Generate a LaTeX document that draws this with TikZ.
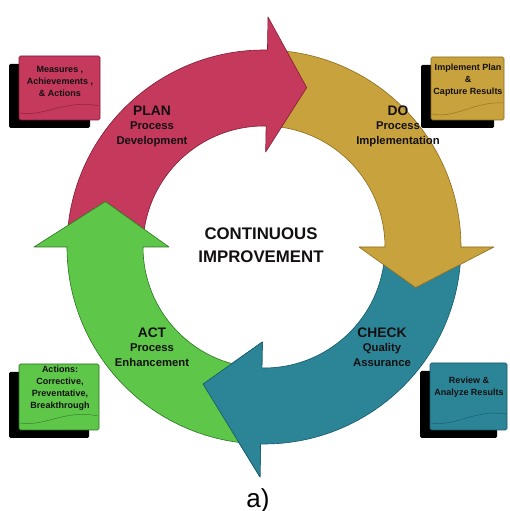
\documentclass[tikz,border=0pt]{standalone}
\usepackage{fontspec}
\setmainfont{Liberation Sans}
\usetikzlibrary{calc}

\definecolor{planfill}{RGB}{196,57,92}
\definecolor{planline}{RGB}{130,28,52}
\definecolor{dofill}{RGB}{200,162,60}
\definecolor{doline}{RGB}{140,108,30}
\definecolor{checkfill}{RGB}{44,133,150}
\definecolor{checkline}{RGB}{22,88,102}
\definecolor{actfill}{RGB}{94,198,72}
\definecolor{actline}{RGB}{40,118,32}
\definecolor{inktext}{RGB}{20,16,18}

% ring geometry (pt)
\def\Ro{197}   % outer radius of the band
\def\Ri{121}   % inner radius of the band
\def\Rwo{230}  % outer wing of an arrow head
\def\Rwi{95}   % inner wing of an arrow head

% one curved arrow: style, tail angle, angle of the back edge of the head,
% angular length of the head, radius of its tip
\newcommand\ringarrow[5]{%
  \path[#1] (#2:\Ro) arc[start angle=#2, end angle=#3, radius=\Ro]
    -- (#3:\Rwo) -- ({#3-#4}:#5) -- (#3:\Rwi) -- (#3:\Ri)
    arc[start angle=#3, end angle=#2, radius=\Ri] -- cycle;}

\tikzset{
  planarrow/.style={fill=planfill, draw=planline, line width=0.6pt, line join=round},
  doarrow/.style={fill=dofill, draw=doline, line width=0.6pt, line join=round},
  checkarrow/.style={fill=checkfill, draw=checkline, line width=0.6pt, line join=round},
  actarrow/.style={fill=actfill, draw=actline, line width=0.6pt, line join=round},
  ringlabel/.style={align=center, text=inktext, font=\fontsize{11.3}{14.5}\selectfont\bfseries},
  notebox/.style={rounded corners=1.5pt, line width=0.6pt},
  notetext/.style={align=center, font=\fontsize{9}{12}\selectfont\bfseries},
}

% a note card with a drop shadow: name, fill, line, left, bottom, top-right corner
\newcommand\notecard[6]{%
  \fill[black, rounded corners=1.5pt] ($(#4,#5)+(-10,-8)$) rectangle ($(#6)+(-10,-8)$);
  \path[notebox, fill=#2, draw=#3] (#4,#5) rectangle (#6) coordinate (#1-tr);
  \coordinate (#1-bl) at (#4,#5);
}

\begin{document}
\begin{tikzpicture}[x=1pt,y=1pt]
\useasboundingbox (0,0) rectangle (509,511);
\fill[white] (0,0) rectangle (509,511);

% ---------------- the cycle ----------------
\begin{scope}[shift={(264,264)}]
  \coordinate (hub) at (0,0);
  \ringarrow{checkarrow}{-3}{-91}{23}{150}
  \ringarrow{doarrow}{86}{0}{15}{157}
  \ringarrow{planarrow}{177}{89}{14}{165}
  \ringarrow{actarrow}{266}{180}{16}{165}
  % the CHECK head lies over the tail of the ACT band
  \fill[checkfill] (-91:\Ro) -- (-91:\Rwo) -- (-114:150) -- (-91:\Rwi) -- (-91:\Ri) -- cycle;
  \draw[checkline, line width=0.6pt, line join=round]
    (-91:\Ro) -- (-91:\Rwo) -- (-114:150) -- (-91:\Rwi) -- (-91:\Ri);
\end{scope}

% ---------------- labels on the ring ----------------
\node[ringlabel] (plan) at (152,385)
  {{\fontsize{13.8}{15}\selectfont PLAN}\\Process\\Development};
\node[ringlabel] (do) at (398,385)
  {{\fontsize{13.8}{15}\selectfont DO}\\Process\\Implementation};
\node[ringlabel] (check) at (382,164)
  {{\fontsize{13.8}{15}\selectfont CHECK}\\Quality\\Assurance};
\node[ringlabel] (act) at (152,164)
  {{\fontsize{13.8}{15}\selectfont ACT}\\Process\\Enhancement};

\node[align=center, text=inktext, font=\fontsize{16.8}{22.5}\selectfont\bfseries]
  (centre) at (261,266) {CONTINUOUS\\IMPROVEMENT};

% ---------------- note cards ----------------
\notecard{plannote}{planfill}{planline}{19}{391}{100,455}
\draw[planline!80!planfill, line width=0.5pt]
  (20,398) .. controls (45,394) and (65,412) .. (99,405);
\node[notetext, text=inktext] (plantext) at (60,430)
  {Measures ,\\Achievements ,\\\& Actions};

\notecard{donote}{dofill}{doline}{431}{391}{504,454}
\draw[doline!80!dofill, line width=0.5pt]
  (432,397) .. controls (455,392) and (475,410) .. (503,408);
\node[notetext, text=inktext] (dotext) at (468,431)
  {Implement Plan\\\&\\Capture Results};

\notecard{actnote}{actfill}{actline}{19}{81}{99,147}
\draw[actline!80!actfill, line width=0.5pt]
  (20,88) .. controls (45,84) and (65,102) .. (98,95);
\node[notetext, text=inktext] (acttext) at (60,123)
  {Actions:\\Corrective,\\Preventative,\\Breakthrough};

\notecard{checknote}{checkfill}{checkline}{430}{81}{507,148}
\draw[checkline!80!checkfill, line width=0.5pt]
  (431,88) .. controls (455,84) and (475,102) .. (506,97);
\node[notetext, text=inktext] (checktext) at (469,124)
  {Review \&\\Analyze Results};

% ---------------- caption ----------------
\node[anchor=base, font=\fontsize{26}{30}\selectfont] (caption) at (258,4) {a)};
\end{tikzpicture}
\end{document}
